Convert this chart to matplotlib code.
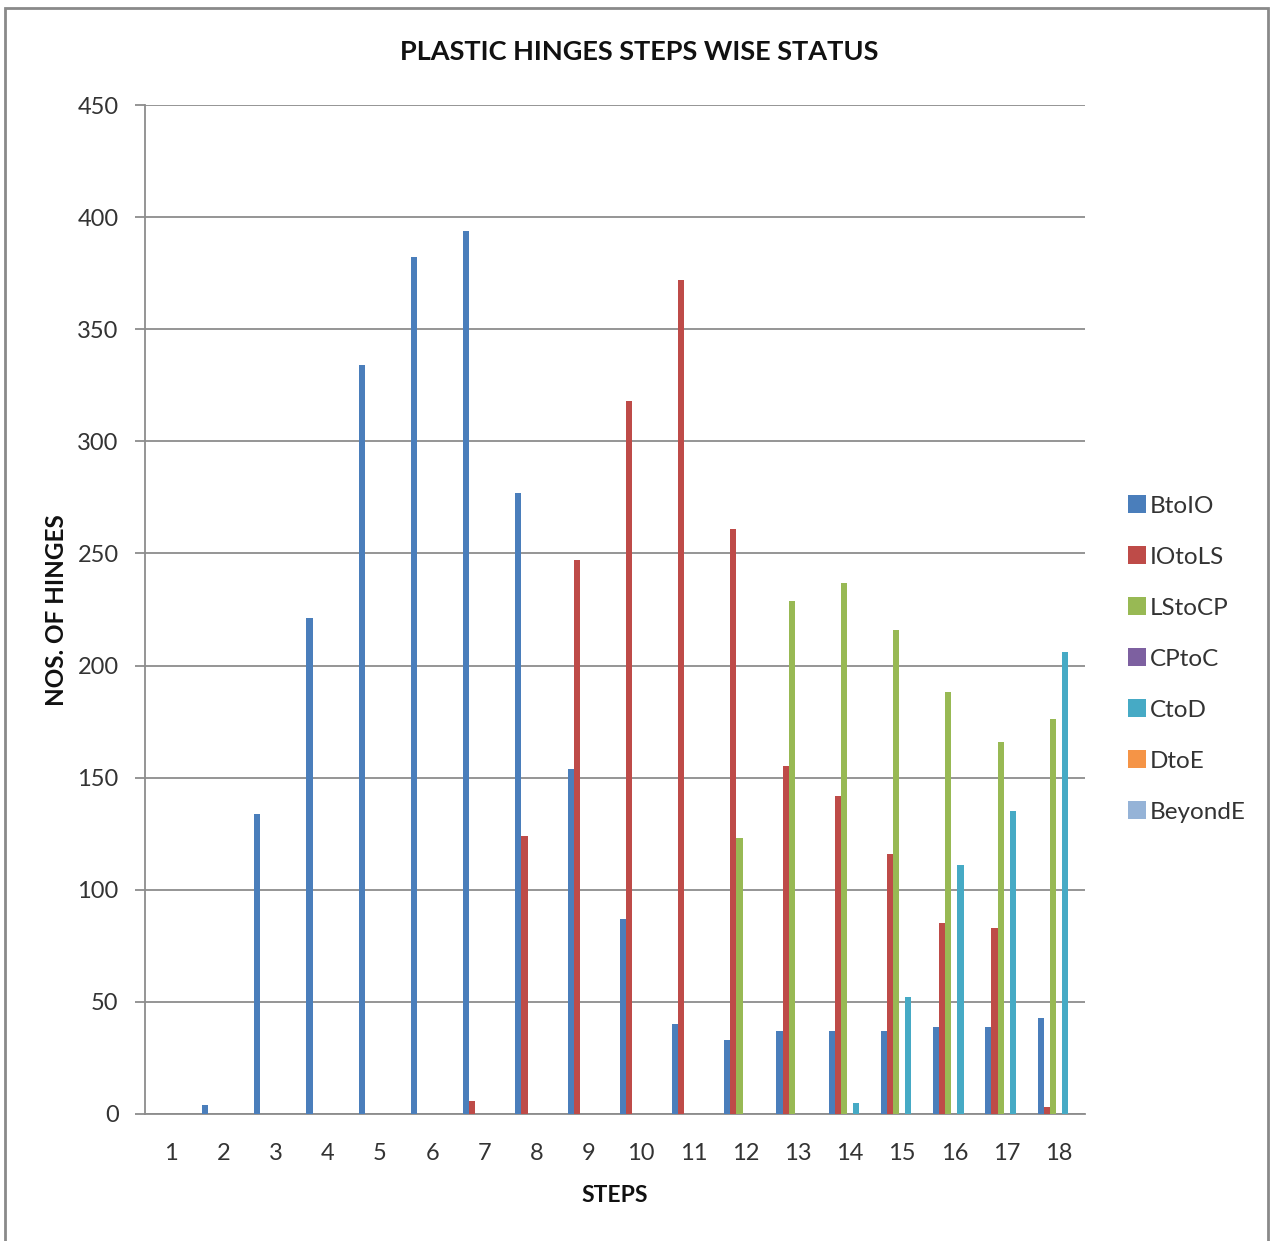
import matplotlib
matplotlib.use("Agg")
import matplotlib.pyplot as plt
from matplotlib.patches import Rectangle, Patch
import numpy as np

plt.rcParams['font.family'] = ['Lato', 'DejaVu Sans']

steps = [str(i) for i in range(1, 19)]
series_names = ["BtoIO", "IOtoLS", "LStoCP", "CPtoC", "CtoD", "DtoE", "BeyondE"]

b_to_io   = [0, 4, 134, 221, 334, 382, 394, 277, 154, 87, 40, 33, 37, 37, 37, 39, 39, 43]
io_to_ls  = [0, 0, 0, 0, 0, 0, 6, 124, 247, 318, 372, 261, 155, 142, 116, 85, 83, 3]
ls_to_cp  = [0, 0, 0, 0, 0, 0, 0, 0, 0, 0, 0, 123, 229, 237, 216, 188, 166, 176]
cp_to_c   = [0] * 18
c_to_d    = [0, 0, 0, 0, 0, 0, 0, 0, 0, 0, 0, 0, 0, 5, 52, 111, 135, 206]
d_to_e    = [0] * 18
beyond_e  = [0] * 18

colors = ["#4A7EBB", "#BE4B48", "#98B954", "#7D60A0", "#46AAC5", "#F59446", "#95B3D7"]
y_ticks = list(range(0, 451, 50))

W, H = 1271, 1241
fig = plt.figure(figsize=(W / 100, H / 100), dpi=100)
fig.patch.set_facecolor("white")

# outer chart frame
fig.patches.append(Rectangle((5 / W, -0.01), 1263 / W, (1241 - 8) / H + 0.01,
                             transform=fig.transFigure, fill=False,
                             edgecolor="#8A8A8A", linewidth=2.0))

ax = fig.add_axes([145 / W, (H - 1114) / H, 940 / W, (1114 - 105) / H])

data = [b_to_io, io_to_ls, ls_to_cp, cp_to_c, c_to_d, d_to_e, beyond_e]
x = np.arange(1, 19)
bw = 0.117
for i, (vals, c) in enumerate(zip(data, colors)):
    ax.bar(x + (i - 3) * bw, vals, width=bw, color=c, linewidth=0, zorder=3)

ax.set_xlim(0.5, 18.5)
ax.set_ylim(0, 450)
ax.set_yticks(y_ticks)
ax.set_xticks(x)
ax.set_xticklabels(steps)
ax.yaxis.grid(True, color="#8C8C8C", linewidth=1.3, zorder=0)
ax.set_axisbelow(True)
for s in ["top", "right"]:
    ax.spines[s].set_visible(False)
for s in ["left", "bottom"]:
    ax.spines[s].set_color("#8C8C8C")
    ax.spines[s].set_linewidth(1.3)
ax.tick_params(axis="y", length=7, width=1.3, color="#8C8C8C", labelsize=17,
               labelcolor="#333333", pad=12)
ax.tick_params(axis="x", length=0, labelsize=17, labelcolor="#333333", pad=21)

fig.text(639 / W, 1 - 52 / H, "PLASTIC HINGES STEPS WISE STATUS", ha="center",
         va="center", fontsize=19.5, fontweight="bold", color="#111111")
fig.text(615 / W, 1 - 1195 / H, "STEPS", ha="center", va="center",
         fontsize=16.5, fontweight="bold", color="#111111")
fig.text(57 / W, 1 - 610 / H, "NOS. OF HINGES", ha="center", va="center",
         rotation=90, fontsize=17.5, fontweight="bold", color="#111111")

handles = [Patch(facecolor=c, edgecolor="none") for c in colors]
fig.legend(handles, series_names, loc="center left",
           bbox_to_anchor=(1106 / W, 1 - 659 / H), frameon=False,
           fontsize=17.5, handlelength=0.75, handleheight=0.75,
           handletextpad=0.15, labelspacing=1.22, labelcolor="#333333")

fig.savefig("out.png", dpi=100)
